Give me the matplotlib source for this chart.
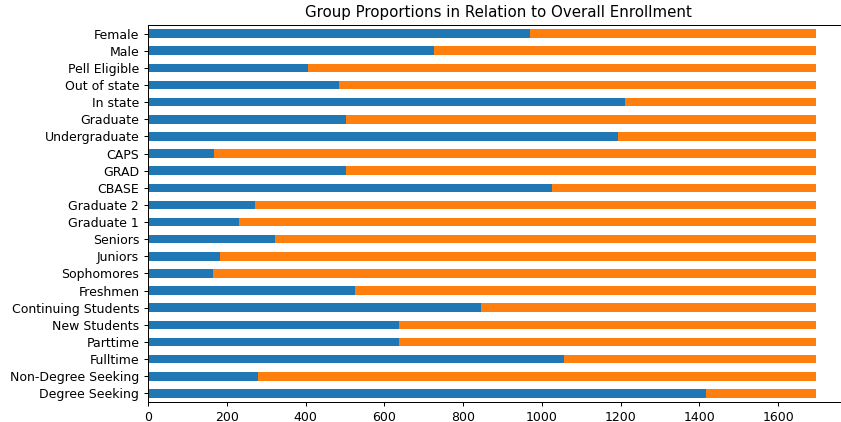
import matplotlib
matplotlib.use("Agg")
import matplotlib.pyplot as plt
import pandas as pd

groups = ["Degree Seeking", "Non-Degree Seeking", "Fulltime", "Parttime",
          "New Students", "Continuing Students", "Freshmen", "Sophomores",
          "Juniors", "Seniors", "Graduate 1", "Graduate 2", "CBASE", "GRAD",
          "CAPS", "Undergraduate", "Graduate", "In state", "Out of state",
          "Pell Eligible", "Male", "Female"]
group_count = [1416, 279, 1056, 638, 637, 845, 526, 164, 184, 322, 232, 271,
               1025, 503, 168, 1193, 503, 1210, 484, 407, 727, 969]
total_enrollment = 1695
rest = [total_enrollment - c for c in group_count]

df = pd.DataFrame({"count": group_count, "rest": rest}, index=groups)

# original looks like a slightly downscaled render, so shrink everything ~0.9
s = 0.9
plt.rcParams.update({
    "font.size": 10 * s,
    "axes.titlesize": 12 * s,
    "axes.linewidth": 0.8 * s,
    "xtick.major.size": 3.5 * s,
    "ytick.major.size": 3.5 * s,
    "xtick.major.width": 0.8 * s,
    "ytick.major.width": 0.8 * s,
    "xtick.major.pad": 3.5 * s,
    "ytick.major.pad": 3.5 * s,
})

fig = plt.figure(figsize=(8.41, 4.22), dpi=100)
ax = fig.add_axes([148 / 841, 20 / 422, 701 / 841, 377 / 422])
df.plot.barh(stacked=True, legend=False, ax=ax)
ax.set_title("Group Proportions in Relation to Overall Enrollment", pad=6 * s)
fig.savefig("out.png", dpi=100)
